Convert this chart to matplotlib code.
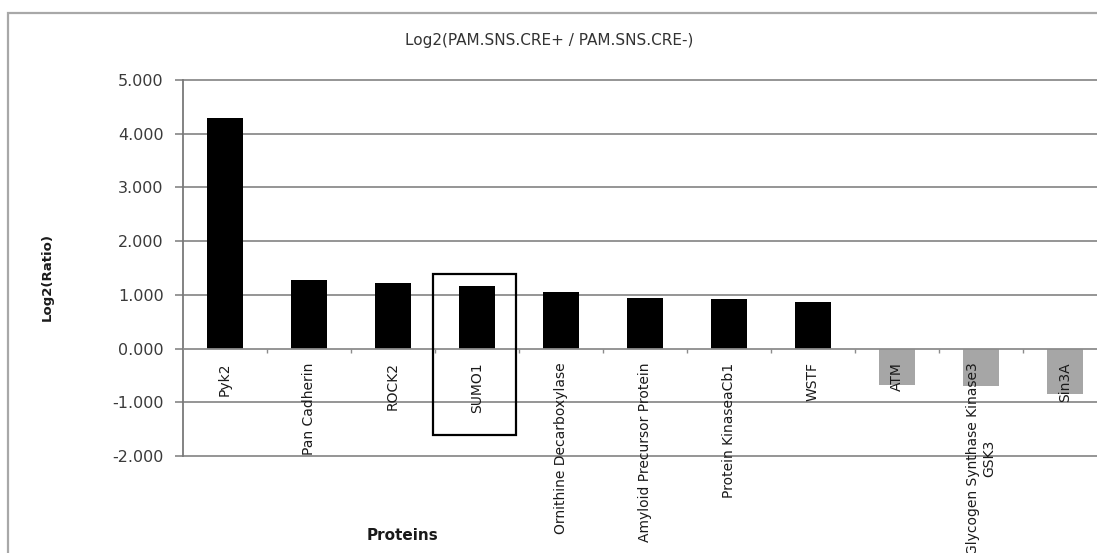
import matplotlib
matplotlib.use("Agg")
import matplotlib.pyplot as plt
from matplotlib.patches import Rectangle
from matplotlib.ticker import FixedLocator, FormatStrFormatter
import numpy as np

# data
proteins = ["Pyk2", "Pan Cadherin", "ROCK2", "SUMO1", "Ornithine Decarboxylase",
            "Amyloid Precursor Protein", "Protein KinaseaCb1", "WSTF", "ATM",
            "Glycogen Synthase Kinase3\nGSK3", "Sin3A"]
log2_ratio = [4.30, 1.27, 1.22, 1.16, 1.06, 0.94, 0.93, 0.87, -0.68, -0.70, -0.84]
y_ticks = [-2, -1, 0, 1, 2, 3, 4, 5]
highlight = "SUMO1"

plt.rcParams["font.family"] = ["DejaVu Sans"]

fig = plt.figure(figsize=(10.97, 5.53), dpi=100)
W, H = 1097, 553

# outer chart frame (right and bottom run off the picture)
fig.patches.append(Rectangle((8 / W, -0.1), 1.2, 1 - 13 / H + 0.1, transform=fig.transFigure,
                             fill=False, edgecolor="#a8a8a8", linewidth=1.6))

ax = fig.add_axes([183 / W, 1 - 456 / H, 924 / W, (456 - 80) / H])
ax.set_axisbelow(False)  # tick labels sit on top of the bars

x = np.arange(len(proteins))
colors = ["#000000" if v > 0 else "#a6a6a6" for v in log2_ratio]
ax.bar(x, log2_ratio, width=0.42, color=colors, zorder=2)

# gridlines drawn by hand so they stay under the bars
for yt in y_ticks:
    if yt != 0:
        ax.axhline(yt, color="#8c8c8c", linewidth=1.3, zorder=0.5, clip_on=False)

ax.set_xlim(-0.5, len(proteins) - 0.5)
ax.set_ylim(-2, 5)
ax.set_yticks(y_ticks)
ax.yaxis.set_major_formatter(FormatStrFormatter("%.3f"))

for s in ["top", "right"]:
    ax.spines[s].set_visible(False)
ax.spines["left"].set_color("#7a7a7a")
ax.spines["left"].set_linewidth(1.3)
ax.spines["bottom"].set_position(("data", 0))
ax.spines["bottom"].set_color("#8c8c8c")
ax.spines["bottom"].set_linewidth(1.3)

ax.tick_params(axis="y", length=6, width=1.1, color="#7a7a7a", pad=8,
               labelsize=11.5, labelcolor="#3a3a3a")
ax.set_xticks(x)
ax.set_xticklabels(proteins, rotation=90, fontsize=10, color="#1a1a1a",
                   multialignment="center")
ax.tick_params(axis="x", which="major", length=0, pad=10)
ax.xaxis.set_minor_locator(FixedLocator(x[:-1] + 0.5))
ax.tick_params(axis="x", which="minor", length=3, width=1, color="#8c8c8c")

# box round the highlighted protein
i = proteins.index(highlight)
ax.add_patch(Rectangle((i - 0.52, -1.60), 0.99, 2.98, fill=False, edgecolor="black",
                       linewidth=1.6, clip_on=False, zorder=5))

fig.text(0.501, 1 - 41 / H, "Log2(PAM.SNS.CRE+ / PAM.SNS.CRE-)", ha="center", va="center",
         fontsize=11, color="#333333")
fig.text(47 / W, 1 - 277 / H, "Log2(Ratio)", rotation=90, ha="center", va="center",
         fontsize=9.5, fontweight="bold", color="#1a1a1a")
fig.text(403 / W, 1 - 535 / H, "Proteins", ha="center", va="center",
         fontsize=11, fontweight="bold", color="#1a1a1a")

fig.savefig("out.png", dpi=100)
